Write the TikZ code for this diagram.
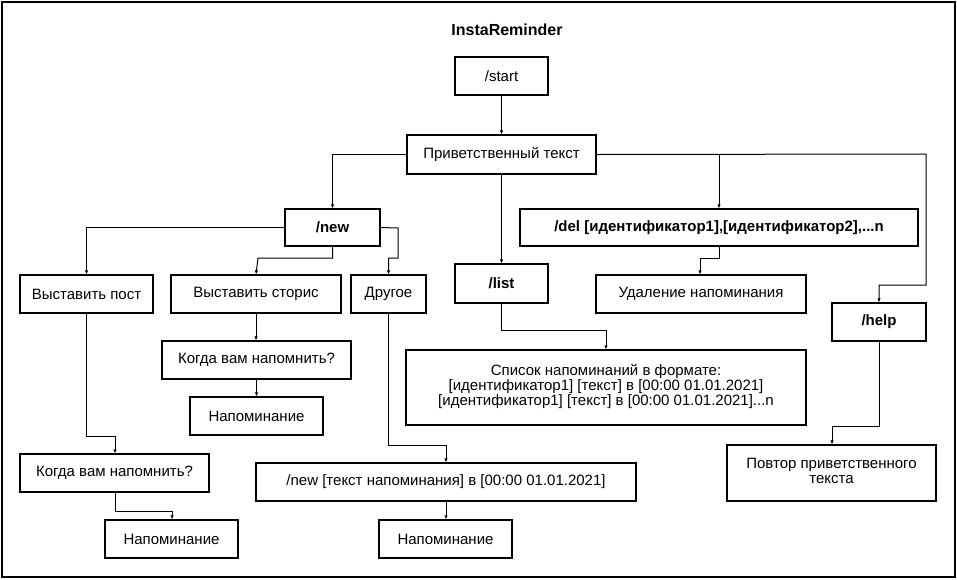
\documentclass[tikz,border=0pt]{standalone}
\usepackage{fontspec}
\setmainfont{Liberation Sans}
\usetikzlibrary{arrows.meta}
\begin{document}
\begin{tikzpicture}[x=1pt,y=-1pt,
  bx/.style={draw,line width=1.3pt,inner sep=0pt,font=\fontsize{15}{17}\selectfont},
  bb/.style={bx,font=\fontsize{15}{17}\selectfont\bfseries},
  ln/.style={line width=1pt,-{Latex[length=4pt,width=3.5pt]}}]
\useasboundingbox (0,0) rectangle (957,579);
\draw[line width=2pt] (2,2) rectangle (955,577);
\node[font=\fontsize{16}{18}\selectfont\bfseries] (title) at (507,30) {InstaReminder};
\newcommand{\bxn}[7]{\node[#1,minimum width=#4-#3,minimum height=#6-#5] (#2) at ({(#3+#4)/2},{(#5+#6)/2}) {#7};}
\bxn{bx}{start}{455}{548}{57}{95}{/start}
\bxn{bx}{hello}{407}{596}{135}{174}{Приветственный текст}
\bxn{bb}{new}{285}{380}{209}{246}{/new}
\bxn{bb}{del}{520}{918}{209}{246}{/del [идентификатор1],[идентификатор2],...n}
\bxn{bb}{list}{455}{548}{264}{303}{/list}
\bxn{bx}{delr}{596}{806}{275}{313}{Удаление напоминания}
\bxn{bb}{help}{832}{926}{303}{341}{/help}
\bxn{bx}{post}{20}{153}{275}{313}{Выставить пост}
\bxn{bx}{story}{171}{341}{275}{313}{Выставить сторис}
\bxn{bx}{other}{351}{426}{275}{313}{Другое}
\bxn{bx}{when1}{162}{351}{341}{379}{Когда вам напомнить?}
\bxn{bx}{rem1}{190}{323}{397}{435}{Напоминание}
\bxn{bx}{listr}{406}{806}{350}{425}{\begin{tabular}{@{}c@{}}Список напоминаний в формате:\\[-2pt] [идентификатор1] [текст] в [00:00 01.01.2021]\\[-2pt] [идентификатор1] [текст] в [00:00 01.01.2021]...n\end{tabular}}
\bxn{bx}{when2}{20}{209}{454}{492}{Когда вам напомнить?}
\bxn{bx}{newt}{256}{636}{463}{501}{/new [текст напоминания] в [00:00 01.01.2021]}
\bxn{bx}{rep}{727}{936}{445}{501}{\begin{tabular}{@{}c@{}}Повтор приветственного\\[-2pt] текста\end{tabular}}
\bxn{bx}{rem2}{105}{238}{520}{558}{Напоминание}
\bxn{bx}{rem3}{379}{512}{520}{558}{Напоминание}
\draw[ln] (start.south) -- (hello.north);
\draw[ln] (hello.west) -| (new.north);
\draw[ln] (hello.south) -- (list.north);
\draw[ln] (hello.east) -| (del.north);
\draw[ln] (hello.east) -- (926,154) -- (926,285) -| (help.north);
\draw[ln] (new.west) -| (post.north);
\draw[ln] (new.south) |- (258,258) -- (story.north);
\draw[ln] (new.east) -- (398,228) -- (398,258) -| (other.north);
\draw[ln] (post.south) |- (115,436) -- (when2.north -| 115,0);
\draw[ln] (story.south) -- (when1.north -| story.south);
\draw[ln] (when1.south) -- (rem1.north -| when1.south);
\draw[ln] (other.south) |- (446,445) -- (newt.north -| 446,0);
\draw[ln] (newt.south -| 446,0) -- (rem3.north -| 446,0);
\draw[ln] (when2.south -| 115,0) |- (172,511) -- (rem2.north -| 172,0);
\draw[ln] (del.south) |- (700,258) -- (delr.north -| 700,0);
\draw[ln] (list.south) |- (606,330) -- (listr.north -| 606,0);
\draw[ln] (help.south) |- (832,426) -- (rep.north -| 832,0);
\end{tikzpicture}
\end{document}
